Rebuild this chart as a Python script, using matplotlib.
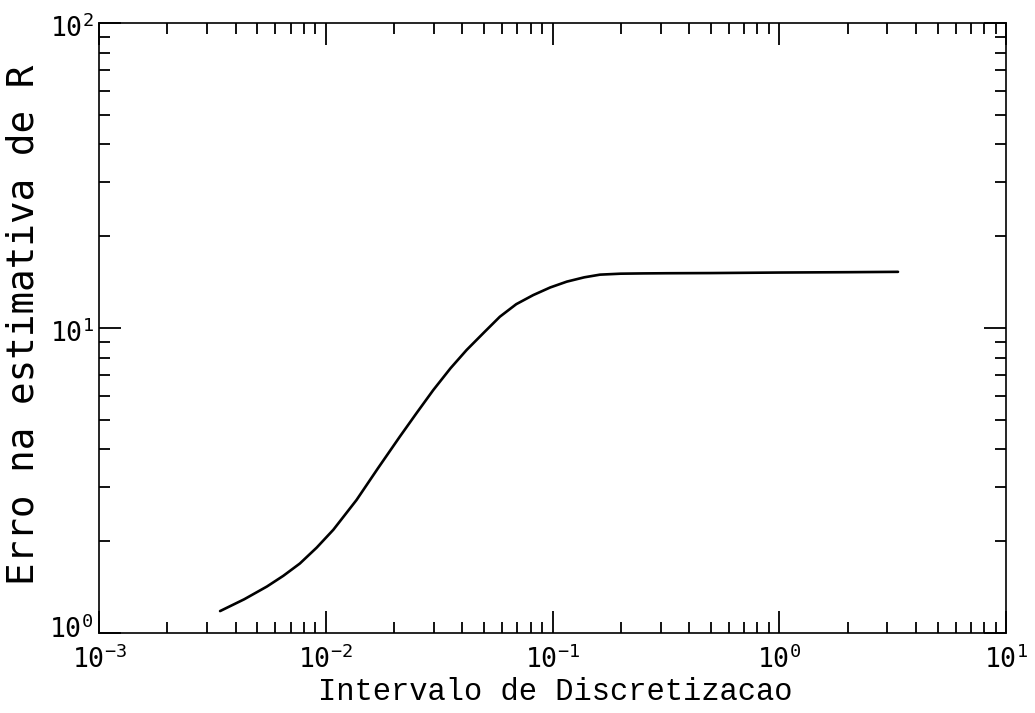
import matplotlib
matplotlib.use("Agg")
import matplotlib.pyplot as plt
from matplotlib.ticker import LogLocator, NullFormatter
from matplotlib.transforms import ScaledTranslation

plt.rcParams['font.family'] = ['DejaVu Sans Mono', 'DejaVu Sans']
plt.rcParams['mathtext.fontset'] = 'custom'
plt.rcParams['mathtext.rm'] = 'DejaVu Sans Mono'
plt.rcParams['mathtext.it'] = 'DejaVu Sans Mono'
plt.rcParams['mathtext.bf'] = 'DejaVu Sans Mono:bold'

# Data
intervalo = [0.00342, 0.00437, 0.0055, 0.0065, 0.00769, 0.00912, 0.0108, 0.01367,
             0.0170, 0.0212, 0.0251, 0.0298, 0.0355, 0.0418, 0.0501, 0.0586,
             0.0692, 0.0822, 0.0977, 0.1156, 0.1380, 0.1620, 0.2000, 0.2500,
             0.3200, 0.5000, 1.0000, 2.0000, 3.3400]
erro = [1.18, 1.29, 1.42, 1.54, 1.69, 1.905, 2.18, 2.73,
        3.47, 4.40, 5.25, 6.26, 7.38, 8.47, 9.70, 10.89,
        11.97, 12.82, 13.58, 14.19, 14.66, 14.96, 15.07, 15.10,
        15.12, 15.14, 15.20, 15.24, 15.28]

xlim = (1e-3, 1e1)
ylim = (1e0, 1e2)

fig = plt.figure(figsize=(10.35, 7.13), dpi=100)
ax = fig.add_axes([99/1035, 1-633/713, (1006-99)/1035, (633-23)/713])

ax.plot(intervalo, erro, color='black', linewidth=1.9, solid_capstyle='round',
        solid_joinstyle='round')

ax.set_xscale('log')
ax.set_yscale('log')
ax.set_xlim(*xlim)
ax.set_ylim(*ylim)

for axis in (ax.xaxis, ax.yaxis):
    axis.set_major_locator(LogLocator(base=10, numticks=10))
    axis.set_minor_locator(LogLocator(base=10, subs=range(2, 10), numticks=10))
    axis.set_minor_formatter(NullFormatter())

ax.tick_params(which='both', direction='in', top=True, right=True,
               width=1.3, color='black', labelsize=19)
ax.tick_params(which='major', length=16)
ax.tick_params(which='minor', length=8)
ax.tick_params(axis='x', which='major', pad=9)
ax.tick_params(axis='y', which='major', pad=4)

for sp in ax.spines.values():
    sp.set_linewidth(1.2)
    sp.set_color('black')

ax.set_xlabel('Intervalo de Discretizacao', fontsize=22,
              family=['Liberation Mono', 'DejaVu Sans Mono'],
              ha='center', va='baseline')
ax.xaxis.set_label_coords(0.503, (633 - 700) / 610)
ax.set_ylabel('Erro na estimativa de R', fontsize=27, ha='center', va='center')
ax.yaxis.set_label_coords(-0.0827, 0.505)

fig.canvas.draw()
for tick in ax.yaxis.get_major_ticks():
    lbl = tick.label1
    if abs(tick.get_loc() - ylim[0]) < 1e-9:
        dy = 6 / 100
    else:
        dy = -3 / 100
    lbl.set_transform(lbl.get_transform() + ScaledTranslation(0, dy, fig.dpi_scale_trans))

fig.savefig('out.png', dpi=100, facecolor='white')
